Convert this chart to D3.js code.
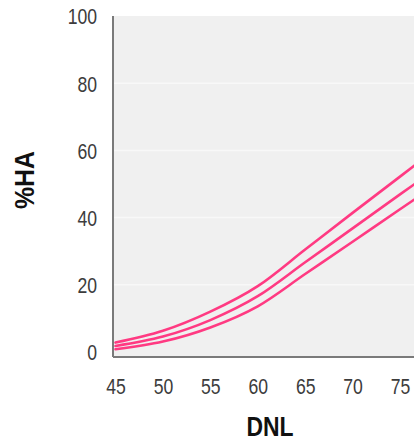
<!DOCTYPE html>
<html>
<head>
<meta charset="utf-8">
<script src="https://cdn.jsdelivr.net/npm/d3@7"></script>
<style>
  html, body { margin: 0; padding: 0; background: #fff; overflow: hidden; }
  svg { display: block; }
  text { font-family: "Liberation Sans", Arial, sans-serif; }
</style>
</head>
<body>
<svg id="chart" width="414" height="444"></svg>
<script>
// DNL (day-night average sound level) sample points
const dnl = [45, 50, 55, 60, 65, 70, 75, 77];
// Percent highly annoyed: upper, central and lower curves
const haUpper  = [2.8, 6.3, 12.0, 19.6, 30.5, 41.4, 52.2, 56.5];
const haMiddle = [1.8, 4.6, 9.5, 16.6, 26.7, 36.8, 46.9, 50.9];
const haLower  = [0.8, 3.1, 7.3, 13.6, 23.2, 32.8, 42.5, 46.3];
const xTicks = [45, 50, 55, 60, 65, 70, 75];
const yTicks = [0, 20, 40, 60, 80, 100];

const svg = d3.select("#chart");
const plot = { left: 113, right: 430, top: 16, bottom: 357 };

const x = d3.scaleLinear().domain([45, 75]).range([115.5, 400]);
const y = d3.scaleLinear().domain([0, 100]).range([352, 16]);

// Plot background
svg.append("rect")
  .attr("x", plot.left).attr("y", plot.top)
  .attr("width", plot.right - plot.left).attr("height", plot.bottom - plot.top)
  .attr("fill", "#f0f0f0");

// Horizontal gridlines
svg.append("g")
  .selectAll("line")
  .data(yTicks.filter(d => d > 0 && d < 100))
  .join("line")
  .attr("x1", plot.left).attr("x2", plot.right)
  .attr("y1", d => y(d)).attr("y2", d => y(d))
  .attr("stroke", "#f8f8f8").attr("stroke-width", 1.5);

// Curves
const series = [haLower, haMiddle, haUpper];
const line = d3.line()
  .x((d, i) => x(dnl[i]))
  .y(d => y(d))
  .curve(d3.curveMonotoneX);

svg.append("g")
  .selectAll("path")
  .data(series)
  .join("path")
  .attr("d", d => line(d))
  .attr("fill", "none")
  .attr("stroke", "#ff3a82")
  .attr("stroke-width", 2.6)
  .attr("stroke-linecap", "round");

// Axis lines
svg.append("line")
  .attr("x1", plot.left).attr("x2", plot.left)
  .attr("y1", plot.top).attr("y2", plot.bottom)
  .attr("stroke", "#7a7a7a").attr("stroke-width", 2);
svg.append("line")
  .attr("x1", plot.left).attr("x2", plot.right)
  .attr("y1", plot.bottom).attr("y2", plot.bottom)
  .attr("stroke", "#7a7a7a").attr("stroke-width", 2);

// Tick labels via axes (tick marks hidden), condensed digits
const xAxis = d3.axisBottom(x).tickValues(xTicks).tickSize(0).tickPadding(0);
const gx = svg.append("g").attr("transform", "translate(0,394)").call(xAxis);
gx.select(".domain").remove();
gx.selectAll("text")
  .attr("font-family", "'Liberation Sans', Arial, sans-serif")
  .attr("font-size", 22).attr("fill", "#3c3c3c")
  .attr("y", 0).attr("dy", 0)
  .attr("transform", "scale(0.8,1)");

const yAxis = d3.axisLeft(y).tickValues(yTicks).tickSize(0).tickPadding(0);
const gy = svg.append("g").attr("transform", "translate(97,0)").call(yAxis);
gy.select(".domain").remove();
gy.selectAll("text")
  .attr("font-family", "'Liberation Sans', Arial, sans-serif")
  .attr("font-size", 22).attr("fill", "#3c3c3c")
  .attr("dy", "0.36em")
  .attr("transform", "scale(0.8,1)");

// Axis titles
svg.append("text")
  .attr("transform", "translate(270,436) scale(0.85,1)")
  .attr("text-anchor", "middle")
  .attr("font-weight", "bold").attr("font-size", 27).attr("fill", "#111")
  .text("DNL");

svg.append("text")
  .attr("transform", "translate(34,180) rotate(-90) scale(0.92,1)")
  .attr("text-anchor", "middle")
  .attr("font-weight", "bold").attr("font-size", 27).attr("fill", "#111")
  .text("%HA");
</script>
</body>
</html>
